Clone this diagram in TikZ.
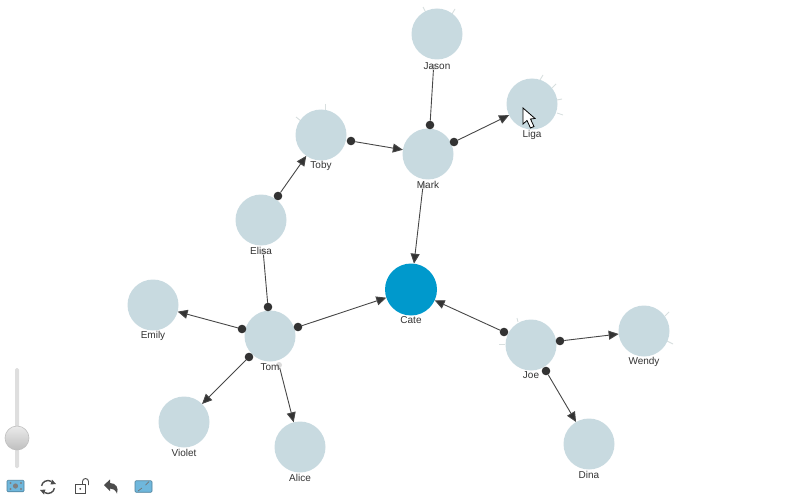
\documentclass[tikz,border=0pt]{standalone}
\usepackage{fontspec}
\setmainfont{Liberation Sans}
\usetikzlibrary{arrows.meta,positioning}
\definecolor{nodeblue}{HTML}{C8DAE0}
\definecolor{catecol}{HTML}{0099CC}
\definecolor{dark}{HTML}{333333}
\definecolor{whisk}{HTML}{D8DFDF}
\definecolor{iconblue}{HTML}{6FB7DC}
\tikzset{
  person/.style={circle,fill=nodeblue,draw=none,minimum size=51pt,inner sep=0pt,outer sep=0pt},
  center person/.style={person,fill=catecol,minimum size=52pt},
  name label/.style={font=\fontsize{10pt}{11pt}\selectfont,text=dark,inner sep=0pt,anchor=center},
  port/.style={circle,fill=dark,draw=none,minimum size=8.6pt,inner sep=0pt,outer sep=0pt},
  stub/.style={circle,fill=black!14,draw=none,minimum size=6pt,inner sep=0pt,outer sep=0pt},
  link/.style={draw=dark!90,line width=0.9pt},
  arrowlink/.style={link,-{Triangle[length=10pt,width=9pt,fill=dark]}},
  whisker/.style={draw=whisk,line width=0.9pt},
  icon/.style={draw=iconblue!70!black,fill=iconblue,line width=0.6pt,rounded corners=1pt,minimum width=17pt,minimum height=11.5pt,inner sep=0pt},
  toolstroke/.style={draw=black!70,line width=1.1pt}
}
\newcommand{\person}[5][person]{%
  \node[#1] (#2) at (#3,#4) {};
}
\begin{document}
\begin{tikzpicture}[x=1pt,y=-1pt]
\useasboundingbox (0,0) rectangle (800,500);
% whiskers
\foreach \a/\b/\c/\d in {423/7/426/13,455/9/452/14,543/75/540/80,556/84/552/88,562/99/557/100,563/115/557/113,325/104/325/110,296/117/301/121,517/318/518/322,499/344/505/344,669/312/665/316,673/344/667/341}
  \draw[whisker] (\a,\b) -- (\c,\d);
% people
\person{jason}{437}{34}{}
\person{liga}{532}{104}{}
\person{mark}{428}{154}{}
\person{toby}{321}{135}{}
\person{elisa}{261}{220}{}
\person{emily}{153}{305}{}
\person{tom}{270}{336}{}
\person{violet}{184}{422}{}
\person{alice}{300}{447}{}
\person{joe}{531}{345}{}
\person{wendy}{644}{331}{}
\person{dina}{589}{444}{}
\person[center person]{cate}{411}{289.5}{}
% ports
\node[port] (pJM) at (430,125) {};
\node[port] (pML) at (454,142) {};
\node[port] (pTM) at (351,141) {};
\node[port] (pET) at (278,196) {};
\node[port] (pTE) at (268,307) {};
\node[port] (pTC) at (298,327) {};
\node[port] (pTEm) at (242,329) {};
\node[port] (pTV) at (249,357) {};
\node[port] (pJC) at (504,332) {};
\node[port] (pJW) at (560,341) {};
\node[port] (pJD) at (546,371) {};
\node[stub] (sJ) at (433.6,67) {};
\node[stub] (sM) at (423,186) {};
\node[stub] (sE) at (263.2,252) {};
\node[stub] (sT) at (279,365) {};
% connectors
\draw[link] (sJ) -- (pJM);
\draw[link] (sE) -- (pTE);
\draw[arrowlink] (pML) -- (liga);
\draw[arrowlink] (pTM) -- (mark);
\draw[arrowlink] (pET) -- (toby);
\draw[arrowlink] (pTC) -- (cate);
\draw[arrowlink] (pTEm) -- (emily);
\draw[arrowlink] (pTV) -- (violet);
\draw[arrowlink] (sT) -- (alice);
\draw[arrowlink] (sM) -- (cate);
\draw[arrowlink] (pJC) -- (cate);
\draw[arrowlink] (pJW) -- (wendy);
\draw[arrowlink] (pJD) -- (dina);
% labels
\node[name label] (lJason) at (437,66) {Jason};
\node[name label] (lLiga) at (532,135) {Liga};
\node[name label] (lMark) at (428,185) {Mark};
\node[name label] (lToby) at (321,166) {Toby};
\node[name label] (lElisa) at (261,251) {Elisa};
\node[name label] (lEmily) at (153,336) {Emily};
\node[name label] (lTom) at (270,367) {Tom};
\node[name label] (lViolet) at (184,453) {Violet};
\node[name label] (lAlice) at (300,478) {Alice};
\node[name label] (lCate) at (411,320) {Cate};
\node[name label] (lJoe) at (531,375) {Joe};
\node[name label] (lWendy) at (644,362) {Wendy};
\node[name label] (lDina) at (589,475) {Dina};
% mouse cursor
\draw[fill=white,draw=black,line width=0.8pt,line join=miter] (523,108) -- (523,124) -- (527,120.5) -- (530.5,128) -- (534,126.5) -- (530.5,119) -- (535,118.5) -- cycle;
% slider
\fill[black!13,rounded corners=1.5pt] (15,368) rectangle (19,468);
\node[circle,minimum size=24pt,inner sep=0pt,draw=black!25,line width=0.6pt,top color=black!8,bottom color=black!25] (knob) at (17,438) {};
% toolbar
\node[icon] (iconA) at (15.5,486) {};
\fill[black!50] (iconA.center) circle (2.6pt);
\fill[black!50] (10.5,483) circle (1.1pt) (21,483) circle (1.1pt) (10.5,489) circle (1.1pt) (21,489) circle (1.1pt);
\draw[toolstroke,line width=1.4pt] (48,487) ++(60:6.5pt) arc[start angle=60,end angle=170,radius=6.5pt];
\draw[toolstroke,line width=1.4pt] (48,487) ++(240:6.5pt) arc[start angle=240,end angle=350,radius=6.5pt];
\fill[black!70] (52,479.5) -- (56,484) -- (50.5,484.5) -- cycle;
\fill[black!70] (44,494.5) -- (40,490) -- (45.5,489.5) -- cycle;
\draw[toolstroke,line width=0.9pt] (75.5,484.5) rectangle (85,493);
\fill[black!70] (80.2,488.8) circle (1pt);
\draw[toolstroke,line width=0.9pt] (82.5,484.5) -- (82.5,481.5) arc[start angle=180,end angle=0,radius=3pt] -- (88.5,485);
\fill[black!70] (104,485) -- (110,479.5) -- (110,483) .. controls (116,483) and (119,488) .. (117,493.5) .. controls (115.5,490) and (113,488.5) .. (110,488.5) -- (110,491) -- cycle;
\node[icon] (iconB) at (143.5,486.5) {};
\draw[black!55,line width=0.7pt] (138,491) -- (142,488) (149,481.5) -- (145.5,485);
\end{tikzpicture}
\end{document}
